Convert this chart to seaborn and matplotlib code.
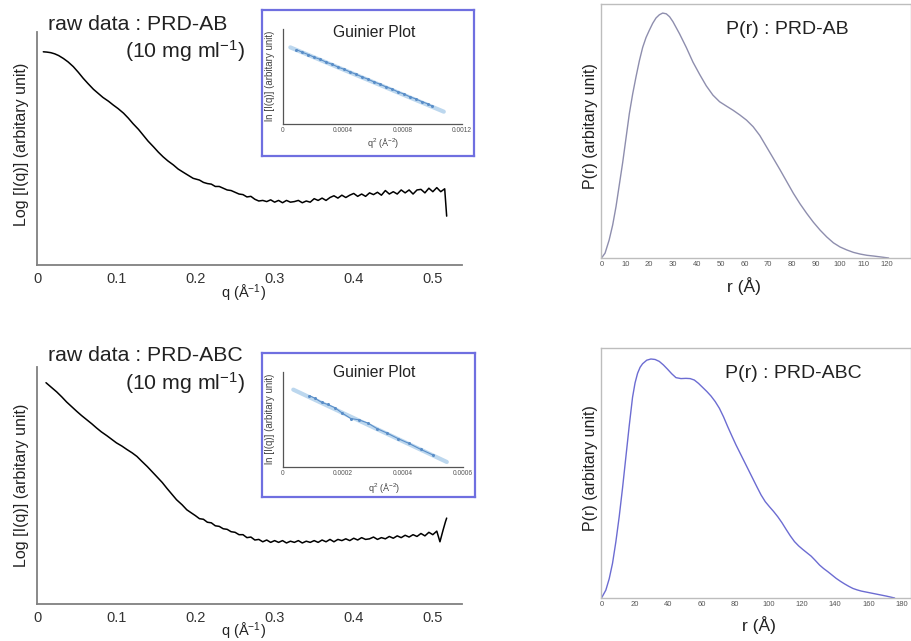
import matplotlib
matplotlib.use("Agg")
import matplotlib.pyplot as plt
import seaborn as sns

# SAXS summary: raw scattering curves, Guinier insets and P(r) distributions

sns.set_style("white")
plt.rcParams['font.family'] = ['Liberation Sans', 'DejaVu Sans']
plt.rcParams['mathtext.fontset'] = 'custom'
plt.rcParams['mathtext.rm'] = 'Liberation Sans'
plt.rcParams['mathtext.it'] = 'Liberation Sans:italic'
plt.rcParams['mathtext.default'] = 'regular'

# ---- raw data PRD-AB: q (1/A) and log I(q) (arbitrary units)
q_ab = [0.0076, 0.012, 0.017, 0.022, 0.027, 0.033, 0.039, 0.0455, 0.052, 0.058,
        0.064, 0.071, 0.077, 0.083, 0.090, 0.096, 0.102, 0.109, 0.115, 0.121,
        0.128, 0.134, 0.140, 0.147, 0.153, 0.159, 0.165, 0.172, 0.178, 0.185,
        0.191, 0.197,
        0.205, 0.210, 0.215, 0.220, 0.225, 0.230, 0.235, 0.240, 0.245, 0.250,
        0.255, 0.260, 0.265, 0.270, 0.275, 0.280, 0.285, 0.290, 0.295, 0.300,
        0.305, 0.310, 0.315, 0.320, 0.325, 0.330, 0.335, 0.340, 0.345, 0.350,
        0.355, 0.360, 0.365, 0.370, 0.375, 0.380, 0.385, 0.390, 0.395, 0.400,
        0.405, 0.410, 0.415, 0.420, 0.425, 0.430, 0.435, 0.440, 0.445, 0.450,
        0.455, 0.460, 0.465, 0.470, 0.475, 0.480, 0.485, 0.490, 0.495, 0.500,
        0.505, 0.510, 0.515, 0.5175]
logi_ab = [3.665, 3.66, 3.65, 3.63, 3.60, 3.55, 3.49, 3.41, 3.31, 3.21,
           3.12, 3.02, 2.95, 2.88, 2.815, 2.75, 2.69, 2.61, 2.525, 2.43,
           2.33, 2.23, 2.13, 2.03, 1.94, 1.86, 1.79, 1.72, 1.65, 1.59,
           1.54, 1.49,
           1.46, 1.42, 1.40, 1.39, 1.35, 1.35, 1.32, 1.29, 1.28, 1.25,
           1.22, 1.21, 1.17, 1.18, 1.13, 1.10, 1.11, 1.09, 1.12, 1.08,
           1.11, 1.07, 1.11, 1.08, 1.09, 1.11, 1.07, 1.10, 1.08, 1.14,
           1.11, 1.15, 1.11, 1.16, 1.19, 1.15, 1.20, 1.16, 1.20, 1.23,
           1.18, 1.22, 1.18, 1.24, 1.21, 1.25, 1.20, 1.28, 1.22, 1.26,
           1.22, 1.29, 1.24, 1.29, 1.22, 1.29, 1.30, 1.24, 1.32, 1.26,
           1.33, 1.26, 1.31, 0.84]

# ---- raw data PRD-ABC
q_abc = [0.011, 0.0175, 0.0245, 0.031, 0.037, 0.0435, 0.050, 0.056, 0.0625, 0.069,
         0.075, 0.081, 0.088, 0.094, 0.100, 0.107, 0.113, 0.120, 0.126, 0.132,
         0.139, 0.145, 0.151, 0.158, 0.164, 0.170, 0.176, 0.183, 0.189, 0.195,
         0.200, 0.205, 0.210, 0.215, 0.220, 0.225, 0.230, 0.235, 0.240, 0.245,
         0.250, 0.255, 0.260, 0.265, 0.270, 0.275, 0.280, 0.285, 0.290, 0.295,
         0.300, 0.305, 0.310, 0.315, 0.320, 0.325, 0.330, 0.335, 0.340, 0.345,
         0.350, 0.355, 0.360, 0.365, 0.370, 0.375, 0.380, 0.385, 0.390, 0.395,
         0.400, 0.405, 0.410, 0.415, 0.420, 0.425, 0.430, 0.435, 0.440, 0.445,
         0.450, 0.455, 0.460, 0.465, 0.470, 0.475, 0.480, 0.485, 0.490, 0.495,
         0.500, 0.505, 0.509, 0.513, 0.516, 0.5175]
logi_abc = [3.735, 3.66, 3.58, 3.495, 3.41, 3.33, 3.25, 3.18, 3.11, 3.04,
            2.97, 2.905, 2.84, 2.78, 2.72, 2.665, 2.61, 2.55, 2.49, 2.41,
            2.32, 2.235, 2.15, 2.05, 1.95, 1.855, 1.76, 1.675, 1.59, 1.535,
            1.49, 1.44, 1.43, 1.38, 1.37, 1.32, 1.31, 1.27, 1.26, 1.22,
            1.21, 1.17, 1.17, 1.12, 1.13, 1.08, 1.09, 1.05, 1.08, 1.04,
            1.07, 1.04, 1.07, 1.03, 1.06, 1.04, 1.07, 1.03, 1.06, 1.04,
            1.07, 1.04, 1.08, 1.05, 1.09, 1.05, 1.09, 1.07, 1.10, 1.07,
            1.11, 1.08, 1.12, 1.09, 1.10, 1.13, 1.09, 1.12, 1.10, 1.14,
            1.11, 1.15, 1.12, 1.16, 1.13, 1.17, 1.14, 1.19, 1.15, 1.21,
            1.17, 1.23, 1.05, 1.25, 1.39, 1.45]

# ---- Guinier plots: q^2 and ln I(q)
q2_ab = [0.00009, 0.00013, 0.00017, 0.00021, 0.00025, 0.00029, 0.00033, 0.00037,
         0.00041, 0.00045, 0.00049, 0.00053, 0.00057, 0.00061, 0.00065, 0.00069,
         0.00073, 0.00077, 0.00081, 0.00085, 0.00089, 0.00093, 0.00097, 0.00100]
lni_ab = [4.65, 4.48, 4.34, 4.17, 4.04, 3.86, 3.73, 3.55, 3.42, 3.25, 3.11, 2.94,
          2.80, 2.63, 2.49, 2.32, 2.19, 2.01, 1.88, 1.70, 1.57, 1.40, 1.26, 1.12]
fit_q2_ab = [0.000049, 0.001078]
fit_lni_ab = [4.79, 0.77]

q2_abc = [0.0000877, 0.000107, 0.000129, 0.000149, 0.000173, 0.000198, 0.000226,
          0.000253, 0.000284, 0.000314, 0.000348, 0.000384, 0.000420, 0.000459,
          0.000499]
lni_abc = [4.44, 4.27, 4.02, 3.89, 3.69, 3.35, 3.02, 2.94, 2.73, 2.39, 2.11, 1.77,
           1.48, 1.11, 0.77]
fit_q2_abc = [0.0000343, 0.000546]
fit_lni_abc = [4.81, 0.33]

# ---- pair distance distributions
r_ab = [0, 1.5, 3.2, 4.7, 6.1, 7.5, 8.9, 10.3, 11.7, 13.1, 14.5, 15.9, 17.3, 18.7,
        20.1, 21.5, 22.9, 24.3, 25.7, 27.2, 28.6, 30, 32.8, 35.6, 38.4, 41.2, 44,
        46.8, 49.6, 52.5, 55.3, 58.1, 60.9, 63.7, 66.5, 69.3, 72.1, 75, 77.8, 80.6,
        83.4, 86.2, 89, 91.8, 94.6, 97.4, 100.2, 103, 105.8, 108.7, 111.5, 114.3,
        117.5, 120.6]
pr_ab = [0, 0.02, 0.073, 0.135, 0.21, 0.30, 0.39, 0.49, 0.59, 0.67, 0.74, 0.805,
         0.86, 0.90, 0.93, 0.958, 0.98, 0.993, 1.0, 0.997, 0.985, 0.965, 0.915,
         0.86, 0.80, 0.75, 0.703, 0.665, 0.638, 0.62, 0.603, 0.584, 0.563, 0.536,
         0.50, 0.454, 0.408, 0.36, 0.312, 0.264, 0.221, 0.182, 0.146, 0.114,
         0.086, 0.062, 0.045, 0.033, 0.023, 0.016, 0.011, 0.008, 0.004, 0.0]

r_abc = [0, 2.6, 4.6, 6.6, 8.6, 10.6, 12.6, 14.6, 16.6, 18.6, 20.1, 21.6, 23.1,
         24.6, 27.1, 29.6, 32.1, 34.6, 37.1, 39.6, 42.1, 44.6, 47.6, 50.6, 53.1,
         55.6, 58.1, 60.6, 63.1, 65.6, 68.1, 70.6, 73.1, 75.6, 78.1, 80.6, 83.1,
         85.6, 88.1, 90.6, 93.1, 95.6, 98.1, 100.6, 103.1, 105.6, 108.1, 110.6,
         113.1, 115.6, 118.1, 120.6, 123.1, 125.6, 128.1, 130.6, 133.1, 135.6,
         138.1, 140.6, 143.1, 145.6, 148.1, 150.6, 153.1, 155.6, 160.6, 165.6,
         170.6, 175.6]
pr_abc = [0, 0.033, 0.08, 0.145, 0.235, 0.34, 0.46, 0.59, 0.72, 0.84, 0.90, 0.94,
          0.965, 0.98, 0.995, 1.0, 0.998, 0.99, 0.975, 0.957, 0.938, 0.922, 0.918,
          0.919, 0.918, 0.912, 0.898, 0.881, 0.864, 0.845, 0.822, 0.794, 0.758,
          0.717, 0.678, 0.640, 0.605, 0.570, 0.535, 0.50, 0.465, 0.431, 0.403,
          0.382, 0.362, 0.340, 0.315, 0.287, 0.260, 0.236, 0.218, 0.203, 0.189,
          0.175, 0.157, 0.138, 0.123, 0.110, 0.096, 0.082, 0.070, 0.059, 0.049,
          0.040, 0.034, 0.029, 0.022, 0.015, 0.008, 0.0]

W, H = 912, 641
fig = plt.figure(figsize=(W / 100, H / 100), dpi=100)


def px_axes(x0, y0, x1, y1):
    # axes from pixel box (top-left origin)
    return fig.add_axes([x0 / W, 1 - y1 / H, (x1 - x0) / W, (y1 - y0) / H])


def raw_panel(box, q, v, label_y):
    ax = px_axes(*box)
    sns.lineplot(x=q, y=v, ax=ax, color='black', linewidth=1.1,
                 estimator=None, sort=False)
    ax.set_xlim(0, 0.5365)
    ax.set_ylim(0, 4)
    ax.set_xticks([0, 0.1, 0.2, 0.3, 0.4, 0.5])
    ax.set_xticklabels(['0', '0.1', '0.2', '0.3', '0.4', '0.5'])
    ax.set_yticks([0, 1, 2, 3, 4])
    ax.set_yticklabels([])
    for s in ['top', 'right']:
        ax.spines[s].set_visible(False)
    for s in ['left', 'bottom']:
        ax.spines[s].set_color('#808080')
        ax.spines[s].set_linewidth(1.3)
    ax.tick_params(direction='in', length=5, width=1, color='#808080',
                   labelsize=10.5, pad=5, labelcolor='#333333')
    ax.set_xlabel('q (Å$^{-1}$)', fontsize=10.5, color='#222222')
    ax.xaxis.label.set_va('center')
    ax.xaxis.set_label_coords(0.487, label_y[0])
    ax.set_ylabel('Log [I(q)] (arbitary unit)', fontsize=11.5, color='#222222')
    ax.yaxis.label.set_va('center')
    ax.yaxis.set_label_coords(-0.038, label_y[1])
    return ax


def guinier_inset(frame, box, q2, lni, fq2, flni, xmax, ticks, ticklabels, ly):
    fr = px_axes(*frame)
    fr.set_xticks([])
    fr.set_yticks([])
    for s in fr.spines.values():
        s.set_color('#6f6fe0')
        s.set_linewidth(1.6)
    ax = px_axes(*box)
    ax.set_facecolor('none')
    sns.lineplot(x=fq2, y=flni, ax=ax, color='#bcd7ee', linewidth=3,
                 estimator=None, sort=False)
    sns.lineplot(x=q2, y=lni, ax=ax, color='#5a8ec8', linewidth=0.8,
                 marker='o', markersize=2.2, markeredgewidth=0,
                 estimator=None, sort=False)
    ax.set_xlim(0, xmax)
    ax.set_ylim(0, 5.92)
    ax.set_xticks(ticks)
    ax.set_xticklabels(ticklabels)
    ax.set_yticks([0, 1, 2, 3, 4, 5])
    ax.set_yticklabels([])
    for s in ['top', 'right']:
        ax.spines[s].set_visible(False)
    for s in ['left', 'bottom']:
        ax.spines[s].set_color('#555555')
        ax.spines[s].set_linewidth(0.9)
    ax.tick_params(direction='in', length=3, width=0.7, color='#555555',
                   labelsize=4.8, pad=2, labelcolor='#555555')
    ax.set_xlabel('q$^{2}$ (Å$^{-2}$)', fontsize=6.5, color='#444444')
    ax.xaxis.label.set_va('center')
    ax.xaxis.set_label_coords(0.56, ly[0])
    ax.set_ylabel('ln [I(q)] (arbitary unit)', fontsize=7, color='#444444')
    ax.yaxis.label.set_va('center')
    ax.yaxis.set_label_coords(-0.073, 0.51)
    ax.text(0.507, ly[1], 'Guinier Plot', transform=ax.transAxes,
            ha='center', va='center', fontsize=11.3, color='#222222')
    return ax


def pr_panel(box, r, p, color, xmax, ticks, ymax, title, tpos, ly):
    ax = px_axes(*box)
    sns.lineplot(x=r, y=p, ax=ax, color=color, linewidth=1.0,
                 estimator=None, sort=False)
    ax.set_xlim(0, xmax)
    ax.set_ylim(0, ymax)
    ax.set_xticks(ticks)
    ax.set_yticks([])
    for s in ax.spines.values():
        s.set_color('#bdbdbd')
        s.set_linewidth(1.0)
    ax.tick_params(axis='x', direction='in', length=3, width=0.7,
                   color='#999999', labelsize=5.5, pad=2.5,
                   labelcolor='#555555')
    ax.set_xlabel('r (Å)', fontsize=12.5, color='#222222')
    ax.xaxis.label.set_va('center')
    ax.xaxis.set_label_coords(tpos[2], ly)
    ax.set_ylabel('P(r) (arbitary unit)', fontsize=11.5, color='#222222')
    ax.yaxis.label.set_va('center')
    ax.yaxis.set_label_coords(-0.037, 0.52)
    ax.text(tpos[0], tpos[1], title, transform=ax.transAxes,
            ha='center', va='center', fontsize=14, color='#222222')
    return ax


# left column: raw curves
raw_panel((37.3, 32.3, 461.7, 265), q_ab, logi_ab, (-0.122, 0.52))
raw_panel((37.3, 367, 461.7, 604), q_abc, logi_abc, (-0.114, 0.50))

fig.text(48 / W, 1 - 30 / H, 'raw data : PRD-AB', fontsize=15.3,
         ha='left', va='baseline', color='#222222')
fig.text(245 / W, 1 - 58 / H, '(10 mg ml$^{-1}$)', fontsize=15.3,
         ha='right', va='baseline', color='#222222')
fig.text(48 / W, 1 - 360.7 / H, 'raw data : PRD-ABC', fontsize=15.3,
         ha='left', va='baseline', color='#222222')
fig.text(245 / W, 1 - 390 / H, '(10 mg ml$^{-1}$)', fontsize=15.3,
         ha='right', va='baseline', color='#222222')

# Guinier insets
guinier_inset((262, 10, 474, 156), (283, 29.3, 462, 124), q2_ab, lni_ab,
              fit_q2_ab, fit_lni_ab, 0.0012, [0, 0.0004, 0.0008, 0.0012],
              ['0', '0.0004', '0.0008', '0.0012'], (-0.2, 0.961))
guinier_inset((262, 353, 475, 497), (283, 371.7, 463, 467.3), q2_abc, lni_abc,
              fit_q2_abc, fit_lni_abc, 0.0006, [0, 0.0002, 0.0004, 0.0006],
              ['0', '0.0002', '0.0004', '0.0006'], (-0.217, 0.99))

# right column: P(r)
pr_panel((601.5, 4, 911, 258), r_ab, pr_ab, '#8e8eae', 130,
         list(range(0, 121, 10)), 1.037, 'P(r) : PRD-AB', (0.599, 0.898, 0.46),
         -0.110)
pr_panel((601.5, 348, 911, 598), r_abc, pr_abc, '#6c6cd2', 185.4,
         list(range(0, 181, 20)), 1.046, 'P(r) : PRD-ABC', (0.619, 0.90, 0.51),
         -0.108)

fig.savefig('out.png', dpi=100)
